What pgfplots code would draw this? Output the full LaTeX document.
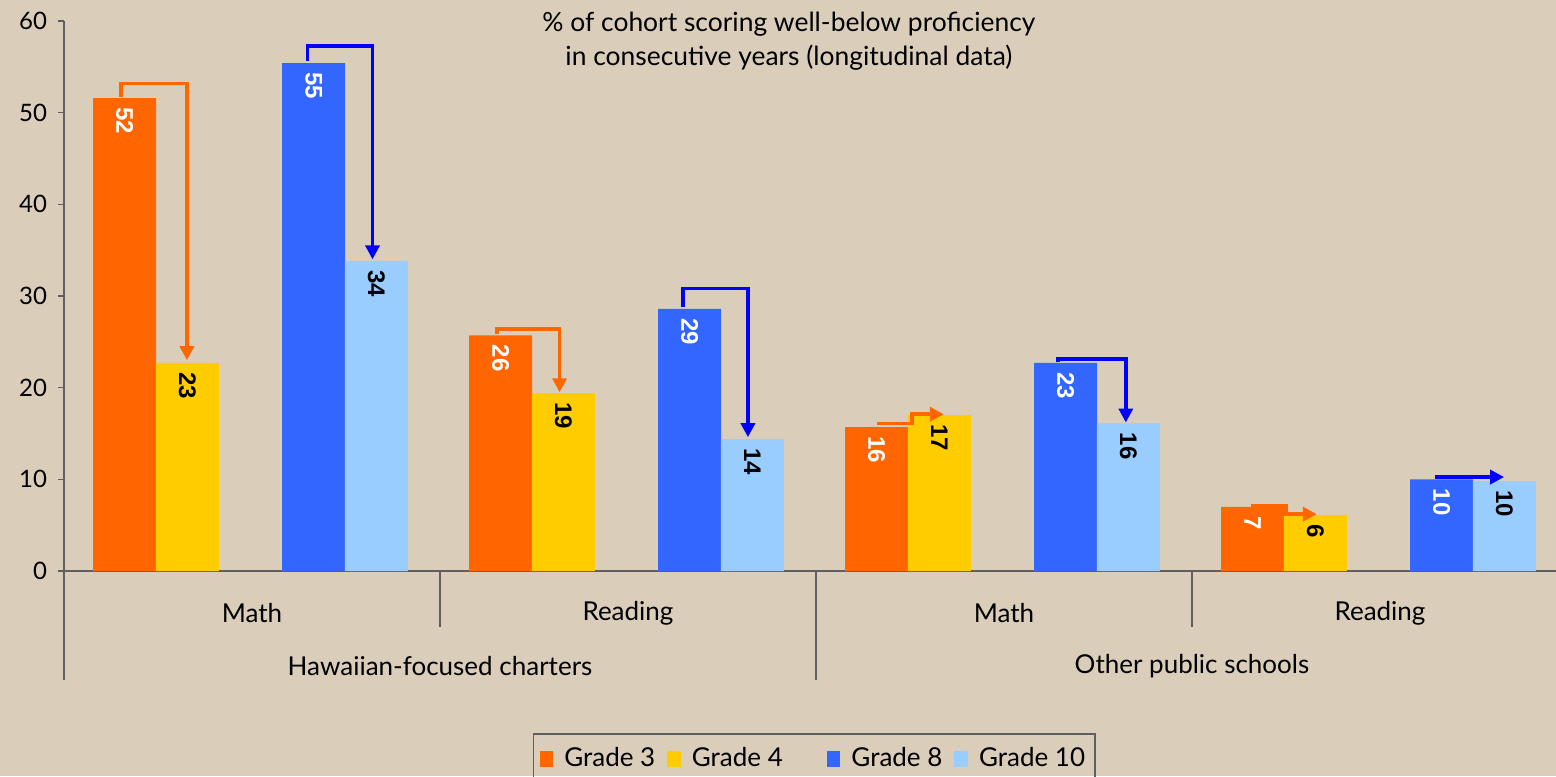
\documentclass[border=0pt]{standalone}
\usepackage{pgfplots}
\pgfplotsset{compat=1.18}
\usetikzlibrary{arrows.meta}
\usepackage{fontspec}
\setmainfont{Lato}
\newfontfamily\numfont{Liberation Sans}

\definecolor{bg}{RGB}{218,206,187}
\definecolor{g3}{RGB}{255,102,0}
\definecolor{g4}{RGB}{255,204,0}
\definecolor{g8}{RGB}{51,102,255}
\definecolor{g10}{RGB}{153,204,255}
\definecolor{arrblue}{RGB}{0,0,255}
\definecolor{axisgray}{RGB}{95,95,95}

\begin{document}
\begin{tikzpicture}
\fill[bg] (0,0) rectangle (778pt,388pt);
\useasboundingbox (0,0) rectangle (778pt,388pt);
\begin{axis}[
    at={(32pt,102.5pt)}, anchor=south west,
    scale only axis, width=752pt, height=275pt,
    xmin=0, xmax=4, ymin=0, ymax=60,
    axis lines*=left,
    axis line style={axisgray, line width=0.8pt},
    xtick=\empty,
    ytick={0,10,...,60},
    tick align=outside, major tick length=3pt,
    tick style={axisgray, line width=0.8pt},
    yticklabel style={font=\fontsize{12}{14}\selectfont, xshift=-2pt},
    /pgf/number format/assume math mode=true,
    clip=false,
    ybar, bar width=0.1676, bar shift=0pt,
    point meta=explicit symbolic,
    nodes near coords,
    every node near coord/.append style={rotate=-90, anchor=west, inner sep=4.5pt,
        font=\numfont\bfseries\fontsize{12}{14}\selectfont},
    legend columns=4,
    legend style={at={(axis cs:1.247,-17.67)}, anchor=north west,
        draw=axisgray, line width=0.8pt, fill=none,
        font=\fontsize{13}{15}\selectfont, inner ysep=5pt, inner xsep=3pt,
        /tikz/every even column/.append style={column sep=4pt},
        /tikz/every odd column/.append style={column sep=3.5pt}},
]
% Grade 3
\addplot[forget plot, bar shift=0pt, fill=g3, draw=none,
    every node near coord/.append style={text=white}]
    coordinates {(0.161,51.6)[52] (1.161,25.7)[26] (2.161,15.7)[16] (3.161,7.0)[7]};
% Grade 4
\addplot[forget plot, bar shift=0pt, fill=g4, draw=none,
    every node near coord/.append style={text=black}]
    coordinates {(0.328,22.7)[23] (1.328,19.4)[19] (2.328,17.0)[17] (3.328,6.1)[6]};
% Grade 8
\addplot[forget plot, bar shift=0pt, fill=g8, draw=none,
    every node near coord/.append style={text=white}]
    coordinates {(0.664,55.4)[55] (1.664,28.6)[29] (2.664,22.7)[23] (3.664,10.0)[10]};
% Grade 10
\addplot[forget plot, bar shift=0pt, fill=g10, draw=none,
    every node near coord/.append style={text=black}]
    coordinates {(0.831,33.8)[34] (1.831,14.4)[14] (2.831,16.1)[16] (3.831,9.8)[10]};

\addlegendimage{legend image code/.code={\fill[g3] (0pt,-3.5pt) rectangle (6pt,3.5pt);}}
\addlegendentry{Grade 3}
\addlegendimage{legend image code/.code={\fill[g4] (0pt,-3.5pt) rectangle (6pt,3.5pt);}}
\addlegendentry{Grade 4\rule{16pt}{0pt}}
\addlegendimage{legend image code/.code={\fill[g8] (0pt,-3.5pt) rectangle (6pt,3.5pt);}}
\addlegendentry{Grade 8}
\addlegendimage{legend image code/.code={\fill[g10] (0pt,-3.5pt) rectangle (6pt,3.5pt);}}
\addlegendentry{Grade 10}

% change arrows
\begin{scope}[line width=1.8pt, -{Triangle[length=7pt,width=7pt]}]
\draw[g3] (axis cs:0.152,51.7) |- (axis cs:0.327,53.2) -- (axis cs:0.327,23.0);
\draw[arrblue] (axis cs:0.648,55.6) |- (axis cs:0.8205,57.3) -- (axis cs:0.8205,34.0);
\draw[g3] (axis cs:1.152,25.9) |- (axis cs:1.318,26.4) -- (axis cs:1.318,19.5);
\draw[arrblue] (axis cs:1.646,28.8) |- (axis cs:1.819,30.8) -- (axis cs:1.819,14.6);
\draw[g3] (axis cs:2.162,16.1) -- (axis cs:2.255,16.1) -- (axis cs:2.255,17.1) -- (axis cs:2.34,17.1);
\draw[arrblue] (axis cs:2.644,22.8) |- (axis cs:2.824,23.1) -- (axis cs:2.824,16.2);
\draw[g3] (axis cs:3.157,7.15) -- (axis cs:3.25,7.15) -- (axis cs:3.25,6.2) -- (axis cs:3.332,6.2);
\draw[arrblue] (axis cs:3.646,10.25) -- (axis cs:3.83,10.25);
\end{scope}

% category separators
\draw[axisgray, line width=0.8pt] (axis cs:0,0) -- (axis cs:0,-11.9);
\draw[axisgray, line width=0.8pt] (axis cs:1,0) -- (axis cs:1,-6.1);
\draw[axisgray, line width=0.8pt] (axis cs:2,0) -- (axis cs:2,-11.9);
\draw[axisgray, line width=0.8pt] (axis cs:3,0) -- (axis cs:3,-6.1);
\draw[axisgray, line width=0.8pt] (axis cs:4,0) -- (axis cs:4,-11.9);

\begin{scope}[font=\fontsize{13}{15}\selectfont]
\node at (axis cs:0.5,-4.6) {Math};
\node at (axis cs:1.5,-4.6) {Reading};
\node at (axis cs:2.5,-4.6) {Math};
\node at (axis cs:3.5,-4.6) {Reading};
\node at (axis cs:1,-10.4) {Hawaiian-focused charters};
\node at (axis cs:3,-10.4) {Other public schools};
\end{scope}

\node[align=center, font=\fontsize{13.2}{17}\selectfont] at (axis cs:1.928,57.75)
    {\% of cohort scoring well-below proficiency\\in consecutive years (longitudinal data)};
\end{axis}
\end{tikzpicture}
\end{document}
